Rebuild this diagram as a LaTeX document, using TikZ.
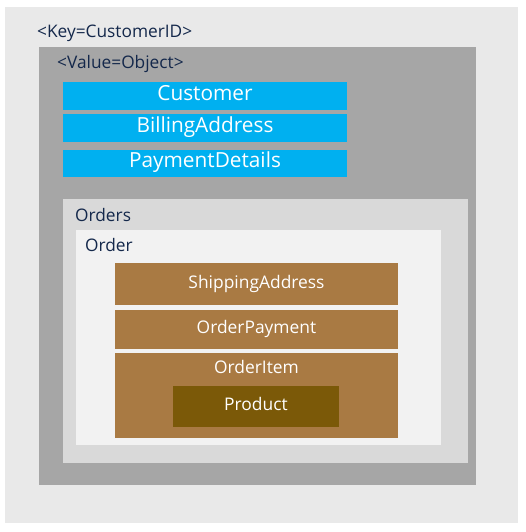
\documentclass[tikz,border=0pt]{standalone}
\usepackage{fontspec}
\setmainfont{Open Sans}
\definecolor{bgouter}{HTML}{E9E9E9}
\definecolor{valgray}{HTML}{A6A6A6}
\definecolor{ordersgray}{HTML}{D9D9D9}
\definecolor{ordergray}{HTML}{F2F2F2}
\definecolor{custblue}{HTML}{00B0F0}
\definecolor{brown}{HTML}{A97A43}
\definecolor{prodbrown}{HTML}{7B5908}
\definecolor{navy}{HTML}{14284B}
\tikzset{
  title/.style={anchor=base west, inner sep=0pt, text=navy, font=\fontsize{17.3}{19}\selectfont},
  bluetext/.style={anchor=base, inner sep=0pt, text=white, font=\fontsize{20.8}{23}\selectfont},
  browntext/.style={anchor=base, inner sep=0pt, text=white, font=\fontsize{17.4}{19}\selectfont},
}
\begin{document}
\begin{tikzpicture}[x=1pt,y=-1pt]
\useasboundingbox (0,0) rectangle (525,532);
\fill[white] (0,0) rectangle (525,532);
% containers
\fill[bgouter] (5,7) rectangle (518,523);
\fill[valgray] (39,47) rectangle (476,485);
\fill[custblue] (63,82) rectangle (347,110);
\fill[custblue] (63,114) rectangle (347,142);
\fill[custblue] (63,150) rectangle (347,177);
\fill[ordersgray] (63,199) rectangle (468,463);
\fill[ordergray] (76,230) rectangle (441,445);
\fill[brown] (115,263) rectangle (398,305);
\fill[brown] (115,310) rectangle (398,349);
\fill[brown] (115,353) rectangle (398,438);
\fill[prodbrown] (173,386) rectangle (339,427);
% texts
\node[title] (key) at (37,37.7) {<Key=CustomerID>};
\node[title] (value) at (57,69) {<Value=Object>};
\node[bluetext] (customer) at (205,100.7) {Customer};
\node[bluetext] (billing) at (205,132.7) {BillingAddress};
\node[bluetext] (payment) at (205,167.7) {PaymentDetails};
\node[title] (orders) at (75,221) {Orders};
\node[title] (order) at (85,251.5) {Order};
\node[browntext] (shipping) at (256.5,288.3) {ShippingAddress};
\node[browntext] (orderpayment) at (256.5,333.3) {OrderPayment};
\node[browntext] (orderitem) at (256.5,373.7) {OrderItem};
\node[browntext] (product) at (256,410) {Product};
\end{tikzpicture}
\end{document}
